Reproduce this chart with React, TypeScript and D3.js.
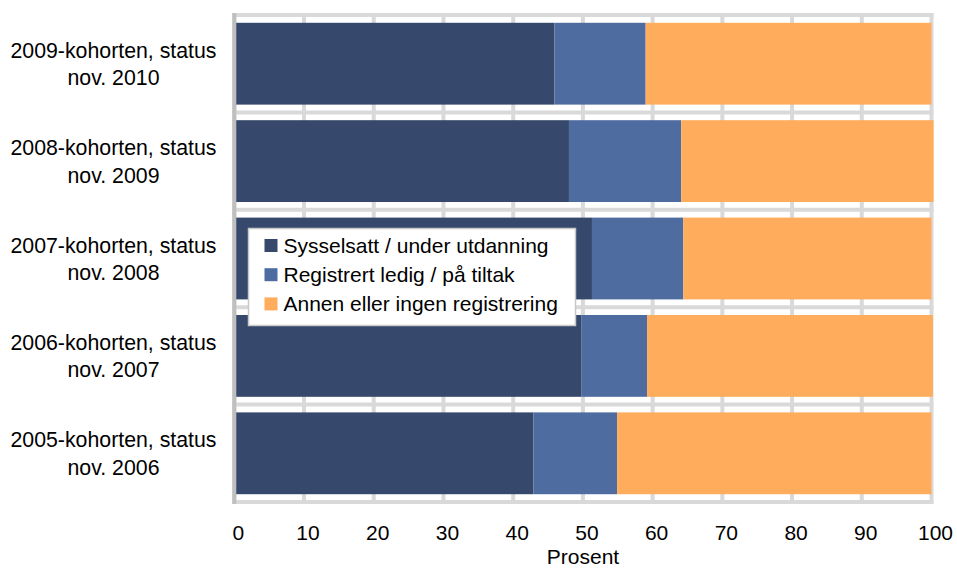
import React from "react";
import * as d3 from "d3";

const categories: string[][] = [
  ["2009-kohorten, status", "nov. 2010"],
  ["2008-kohorten, status", "nov. 2009"],
  ["2007-kohorten, status", "nov. 2008"],
  ["2006-kohorten, status", "nov. 2007"],
  ["2005-kohorten, status", "nov. 2006"],
];
const seriesNames = [
  "Sysselsatt / under utdanning",
  "Registrert ledig / på tiltak",
  "Annen eller ingen registrering",
];
const sysselsatt = [45.9, 48.0, 51.3, 49.8, 42.9];
const registrert = [13.1, 16.1, 13.1, 9.4, 12.0];
const annen = [41.0, 36.2, 35.6, 41.0, 45.1];
const xTicks = [0, 10, 20, 30, 40, 50, 60, 70, 80, 90, 100];
const xTitle = "Prosent";

const colors = ["#36486b", "#4f6ca0", "#ffac5c"];
const W = 957;
const H = 569;
const FONT = "'Liberation Sans', Arial, sans-serif";

export default function App() {
  const x = d3.scaleLinear().domain([0, 100]).range([234.3, 931.5]);
  const y = d3
    .scaleBand<number>()
    .domain(d3.range(categories.length))
    .range([15, 502])
    .paddingInner(0.16)
    .paddingOuter(0.08);
  const step = y.step();
  const rows = categories.map((_, i) => ({
    i,
    v0: sysselsatt[i],
    v1: registrert[i],
    v2: annen[i],
  }));
  const stack = d3.stack<any>().keys(["v0", "v1", "v2"]);
  const stacked = stack(rows);
  const boundaries = d3.range(categories.length + 1).map((k) => 15 + k * step);

  const legX = 248.5;
  const legY = 228.5;

  return (
    <svg
      width={W}
      height={H}
      style={{ position: "absolute", left: 0, top: 0, background: "#fff" }}
      fontFamily={FONT}
    >
      <rect x={0} y={0} width={W} height={H} fill="#fff" />
      {/* gridlines */}
      {xTicks.map((t) => (
        <line
          key={"gx" + t}
          x1={x(t)}
          x2={x(t)}
          y1={13}
          y2={504}
          stroke="#d9d9d9"
          strokeWidth={4}
        />
      ))}
      {boundaries.map((b, k) => (
        <line
          key={"gy" + k}
          x1={232.3}
          x2={933.5}
          y1={b}
          y2={b}
          stroke="#d9d9d9"
          strokeWidth={4}
        />
      ))}
      {/* bars */}
      {stacked.map((s, si) => (
        <g key={"s" + si} fill={colors[si]}>
          {s.map((d, i) => (
            <rect
              key={i}
              x={x(d[0])}
              y={y(i)!}
              width={x(d[1]) - x(d[0])}
              height={y.bandwidth()}
            />
          ))}
        </g>
      ))}
      {/* left axis line */}
      <line x1={x(0)} x2={x(0)} y1={13} y2={504} stroke="#bfbfbf" strokeWidth={4} />
      {/* category labels */}
      {categories.map((lines, i) => {
        const c = y(i)! + y.bandwidth() / 2;
        return (
          <text key={"c" + i} x={113.5} textAnchor="middle" fontSize={21.3} fill="#000">
            <tspan x={113.5} y={c - 6}>
              {lines[0]}
            </tspan>
            <tspan x={113.5} y={c + 21.5}>
              {lines[1]}
            </tspan>
          </text>
        );
      })}
      {/* x tick labels */}
      {xTicks.map((t) => (
        <text
          key={"t" + t}
          x={x(t) + 4}
          y={540}
          textAnchor="middle"
          fontSize={21}
          fill="#000"
        >
          {t}
        </text>
      ))}
      <text x={583} y={564} textAnchor="middle" fontSize={21} fill="#000">
        {xTitle}
      </text>
      {/* legend */}
      <rect
        x={legX}
        y={legY}
        width={327}
        height={97}
        fill="#fff"
        stroke="#c8c8c8"
        strokeWidth={1.5}
      />
      {seriesNames.map((n, k) => {
        const cy = 245.5 + k * 29.2;
        return (
          <g key={"l" + k}>
            <rect x={264.5} y={cy - 6.5} width={13} height={13} fill={colors[k]} />
            <text x={283.5} y={cy + 7.5} fontSize={21} fill="#000">
              {n}
            </text>
          </g>
        );
      })}
    </svg>
  );
}
